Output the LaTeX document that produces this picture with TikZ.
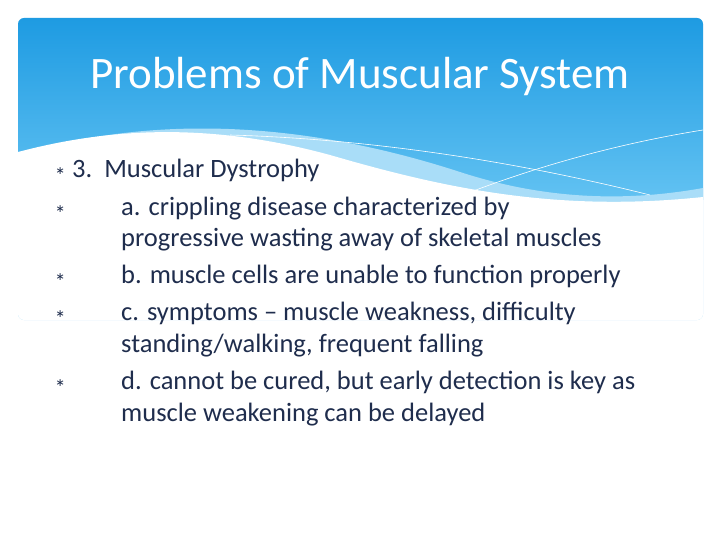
\documentclass[tikz,border=0pt]{standalone}
\usepackage{fontspec}
\setmainfont{Carlito}
\newfontfamily\djv{DejaVu Sans}
\definecolor{txt}{HTML}{1F2D4D}
\definecolor{bluetop}{HTML}{1E9BE2}
\definecolor{bluebot}{HTML}{62C2F2}
\definecolor{lightb}{HTML}{A9DDF8}
\begin{document}
\begin{tikzpicture}[x=1pt,y=-1pt,
  bul/.style={anchor=base west,text=txt,font=\djv\fontsize{11}{11}\selectfont},
  body/.style={anchor=base west,text=txt,font=\fontsize{26.5}{32}\selectfont,inner sep=0}]
\useasboundingbox (0,0) rectangle (720,540);
\fill[white] (0,0) rectangle (720,540);
% header
\begin{scope}
\clip[rounded corners=6] (18,18) rectangle (703,320);
\shade[top color=bluetop,bottom color=bluebot] (18,18) -- (703,18) -- (703,200) -- (18,200) -- cycle;
\fill[lightb] (18,155) .. controls (150,115) and (300,120) .. (460,172) .. controls (540,198) and (620,203) .. (703,188) -- (703,320) -- (18,320) -- cycle;
\fill[white] (18,152) .. controls (120,125) and (220,125) .. (330,155) .. controls (450,190) and (560,212) .. (703,197) -- (703,320) -- (18,320) -- cycle;
\draw[white,line width=0.6] (230,135) .. controls (400,140) and (550,170) .. (650,195);
\draw[white,line width=0.6] (450,200) .. controls (550,160) and (640,140) .. (703,130);
\end{scope}
\node[text=white,font=\fontsize{45}{45}\selectfont] (title) at (360,77) {Problems of Muscular System};
% bullets
\foreach \y/\n in {178/b1,215/b2,283/b3,320/b4,389/b5}
  \node[bul] (\n) at (52,\y-3) {∗};
\node[body] (t1) at (72,178) {3.\ \ Muscular Dystrophy};
\node[body] (t2) at (121,215) {a. crippling disease characterized by};
\node[body] (t2b) at (121,247) {progressive wasting away of skeletal muscles};
\node[body] (t3) at (121,283) {b. muscle cells are unable to function properly};
\node[body] (t4) at (121,320) {c. symptoms – muscle weakness, difficulty};
\node[body] (t4b) at (121,352) {standing/walking, frequent falling};
\node[body] (t5) at (121,389) {d. cannot be cured, but early detection is key as};
\node[body] (t5b) at (121,421) {muscle weakening can be delayed};
\end{tikzpicture}
\end{document}
